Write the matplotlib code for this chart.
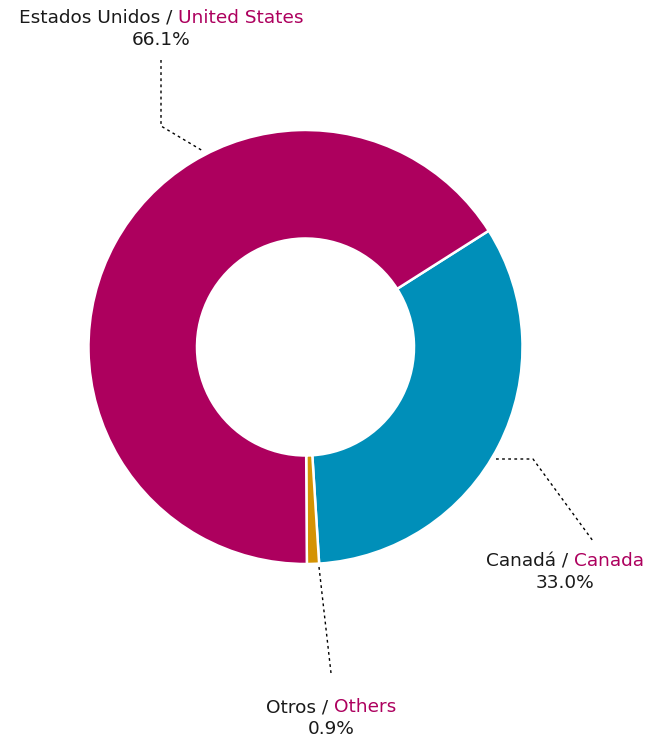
import matplotlib
matplotlib.use("Agg")
import numpy as np
from matplotlib import pyplot as plt

# participation by destination (%)
labels_es = ["Canadá", "Otros", "Estados Unidos"]
labels_en = ["Canada", "Others", "United States"]
shares = [33.0, 0.9, 66.1]
colors = ["#008fb9", "#d49304", "#ad005e"]

magenta = "#ad005e"
W, H = 659, 738
cx, cy, R = 305.5, 347, 217.0


# pixel (from top-left) -> data units, radius 1 = R px
def px(x, y):
    return (x - cx) / R, (cy - y) / R


fig = plt.figure(figsize=(W / 100, H / 100), dpi=100)
ax = fig.add_axes([0, 0, 1, 1])
ax.pie(shares, colors=colors, startangle=32.4, counterclock=False,
       radius=1.0, wedgeprops=dict(width=0.5, edgecolor="white", linewidth=1.8))
ax.set_xlim(px(0, 0)[0], px(W, 0)[0])
ax.set_ylim(px(0, H)[1], px(0, 0)[1])
ax.set_aspect("equal")
ax.axis("off")

# dotted leader lines
dots = dict(color="black", lw=1.0, linestyle=(0, (2, 2.4)))
leaders = [
    [(161, 60), (161, 126), (203, 151)],
    [(496, 459), (533, 459), (593, 541)],
    [(319, 567), (331, 673)],
]
for pts in leaders:
    xy = np.array([px(*p) for p in pts])
    ax.plot(xy[:, 0], xy[:, 1], **dots)

fs = 13.3
font = "DejaVu Sans"
renderer = fig.canvas.get_renderer()


def text_width(s):
    t = ax.text(0, 0, s, fontsize=fs, family=font)
    w = t.get_window_extent(renderer).width
    t.remove()
    return w


space_w = text_width("a a") - text_width("aa")


def two_tone(xc, y, black, colored, pct):
    w1 = text_width(black + " /") + space_w
    w2 = text_width(colored)
    x0 = xc - (w1 + w2) / 2
    ax.text(*px(x0, y), black + " /", fontsize=fs, family=font,
            color="#1a1a1a", va="center", ha="left")
    ax.text(*px(x0 + w1, y), colored, fontsize=fs, family=font,
            color=magenta, va="center", ha="left")
    ax.text(*px(xc, y + 22), f"{pct:.1f}%", fontsize=fs, family=font,
            color="#1a1a1a", va="center", ha="center")


two_tone(161, 18, labels_es[2], labels_en[2], shares[2])
two_tone(565, 561, labels_es[0], labels_en[0], shares[0])
two_tone(331, 707, labels_es[1], labels_en[1], shares[1])

fig.savefig("out.png", dpi=100)
